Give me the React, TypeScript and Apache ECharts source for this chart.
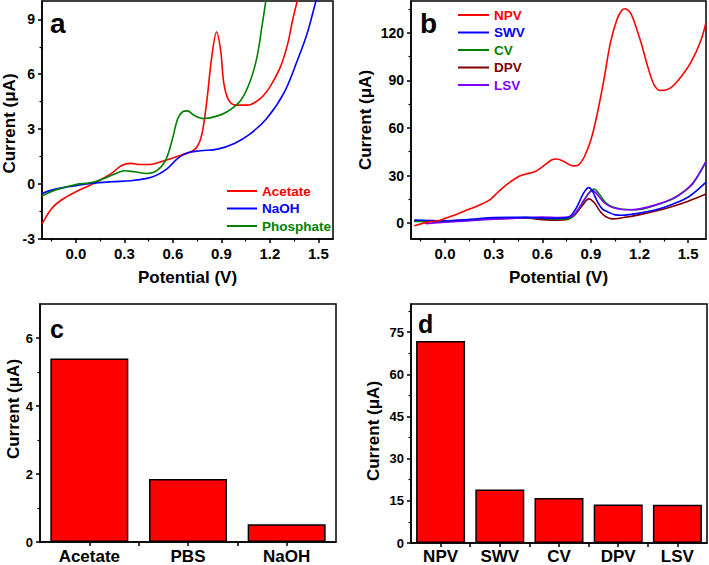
import React, { useEffect, useRef } from "react";
import * as echarts from "echarts";

// ---------- Panel a: oxidation curves in different electrolytes (V, µA) ----------
const acetateCurve = [
  [-0.21, -2.18], [-0.15, -1.33], [-0.09, -0.87], [0, -0.42], [0.09, -0.05], [0.15, 0.22],
  [0.22, 0.58], [0.28, 1.0], [0.34, 1.13], [0.4, 1.07], [0.46, 1.07], [0.525, 1.22],
  [0.59, 1.4], [0.65, 1.58], [0.71, 1.76], [0.75, 2.04], [0.78, 2.76], [0.81, 4.58],
  [0.84, 6.95], [0.87, 8.31], [0.895, 7.3], [0.915, 5.49], [0.945, 4.58], [0.99, 4.31],
  [1.06, 4.31], [1.14, 4.67], [1.2, 5.31], [1.265, 6.4], [1.31, 7.67], [1.34, 8.95],
  [1.37, 10.04], [1.4, 11.0],
];
const naohCurve = [
  [-0.21, -0.51], [-0.15, -0.33], [-0.05, -0.15], [0, -0.09], [0.09, 0.04], [0.22, 0.13],
  [0.34, 0.18], [0.44, 0.31], [0.5, 0.49], [0.565, 0.85], [0.63, 1.4], [0.69, 1.71],
  [0.77, 1.82], [0.875, 1.91], [0.98, 2.22], [1.08, 2.76], [1.18, 3.58], [1.285, 4.95],
  [1.37, 6.76], [1.43, 8.22], [1.48, 9.85], [1.5, 10.5],
];
const phosphateCurve = [
  [-0.21, -0.65], [-0.13, -0.33], [0, -0.02], [0.09, 0.07], [0.175, 0.31], [0.24, 0.55],
  [0.3, 0.73], [0.36, 0.67], [0.44, 0.58], [0.5, 0.73], [0.555, 1.31], [0.595, 2.4],
  [0.63, 3.58], [0.66, 3.95], [0.69, 4.0], [0.73, 3.76], [0.79, 3.58], [0.855, 3.67],
  [0.935, 3.95], [1.02, 4.58], [1.08, 5.67], [1.12, 6.95], [1.15, 8.58], [1.175, 10.04],
  [1.19, 11.0],
];

// ---------- Panel b: techniques (V, µA) ----------
const npvCurve = [
  [-0.19, -1.7], [-0.1, 0.8], [-0.04, 1.5], [0, 3.0], [0.07, 5.5], [0.124, 7.8], [0.17, 9.6],
  [0.227, 12], [0.28, 15], [0.33, 19.9], [0.39, 25], [0.454, 29.4], [0.5, 31], [0.557, 32.5],
  [0.6, 35.5], [0.66, 39.9], [0.69, 40.4], [0.73, 39], [0.79, 36.1], [0.82, 36.5], [0.86, 42],
  [0.9, 52.5], [0.94, 69.4], [0.98, 90.4], [1.02, 113.5], [1.06, 128.2], [1.09, 134],
  [1.11, 135.1], [1.14, 133], [1.16, 129], [1.21, 113.5], [1.25, 98.8], [1.29, 87.2],
  [1.33, 83.6], [1.39, 85.1], [1.45, 91.4], [1.52, 101.9], [1.58, 115.6], [1.61, 126.5],
];
const swvCurve = [
  [-0.19, 2.0], [-0.1, 1.7], [0, 1.5], [0.1, 2], [0.2, 2.8], [0.3, 3.5], [0.4, 3.6], [0.5, 3.6],
  [0.6, 3.2], [0.7, 3.0], [0.76, 3.5], [0.8, 8], [0.825, 12.6], [0.855, 19], [0.887, 22.4],
  [0.91, 20], [0.94, 13.5], [0.97, 9], [1.0, 7.3], [1.05, 5.2], [1.093, 5.0], [1.15, 5.6],
  [1.2, 6.3], [1.3, 8.4], [1.4, 11.8], [1.506, 16.8], [1.61, 25.8],
];
const cvCurve = [
  [-0.19, 1.0], [0, 1.0], [0.3, 2.8], [0.5, 3.5], [0.7, 2.5], [0.76, 3], [0.8, 5.5], [0.85, 13],
  [0.89, 19.5], [0.92, 21.5], [0.95, 18.5], [0.99, 13], [1.04, 10], [1.1, 8.7], [1.15, 8.4],
  [1.2, 8.6], [1.3, 11.3], [1.4, 15], [1.465, 19.3], [1.53, 25], [1.61, 38.8],
];
const dpvCurve = [
  [-0.19, 1.4], [0, 1.5], [0.1, 1.8], [0.2, 2.2], [0.3, 2.7], [0.4, 3.0], [0.5, 3.2], [0.6, 2.2],
  [0.7, 1.8], [0.76, 2.5], [0.8, 5], [0.85, 11.5], [0.887, 15.3], [0.92, 13], [0.96, 7],
  [0.99, 4.2], [1.03, 2.7], [1.1, 3.5], [1.196, 5.2], [1.3, 7.6], [1.403, 10.5], [1.5, 13.8],
  [1.61, 18.3],
];
const lsvCurve = [
  [-0.12, -0.4], [-0.05, 0.3], [0, 0.6], [0.1, 1.2], [0.2, 1.8], [0.3, 2.5], [0.4, 3.0],
  [0.5, 3.5], [0.6, 3.8], [0.7, 3.5], [0.76, 3.8], [0.804, 6.3], [0.866, 15.8], [0.91, 20.5],
  [0.94, 18], [0.98, 13], [1.03, 10], [1.08, 8.8], [1.134, 8.4], [1.2, 9], [1.3, 11.5],
  [1.4, 15.3], [1.465, 19.3], [1.53, 25.5], [1.61, 39],
];

// ---------- Panel c / d: bar values ----------
const electrolyteNames = ["Acetate", "PBS", "NaOH"];
const electrolyteCurrents = [5.4, 1.85, 0.52];
const techniqueNames = ["NPV", "SWV", "CV", "DPV", "LSV"];
const techniqueCurrents = [71.8, 19.0, 16.0, 13.7, 13.6];

// ---------- Tick values ----------
const potentialTicks = [0, 0.3, 0.6, 0.9, 1.2, 1.5];
const potentialMinorTicks = [-0.15, 0.15, 0.45, 0.75, 1.05, 1.35];
const aCurrentTicks = [-3, 0, 3, 6, 9];
const aCurrentMinorTicks = [-1.5, 1.5, 4.5, 7.5];
const bCurrentTicks = [0, 30, 60, 90, 120];
const bCurrentMinorTicks = [15, 45, 75, 105, 135];
const cCurrentTicks = [0, 2, 4, 6];
const cCurrentMinorTicks = [1, 3, 5];
const dCurrentTicks = [0, 15, 30, 45, 60, 75];
const dCurrentMinorTicks = [7.5, 22.5, 37.5, 52.5, 67.5, 82.5];

const FONT = "'Liberation Sans', Arial, Helvetica, sans-serif";
const BLACK = "#000";

function mainAxis(o: any) {
  return {
    type: "value",
    gridIndex: o.grid,
    position: o.position,
    offset: 0,
    min: o.min,
    max: o.max,
    axisLine: { show: true, onZero: false, lineStyle: { color: BLACK, width: 1.5 } },
    axisTick: { show: true, inside: false, length: 4, customValues: o.ticks, lineStyle: { color: BLACK, width: 1.5 } },
    axisLabel: {
      show: true,
      customValues: o.labels || o.ticks,
      margin: o.margin ?? 7,
      fontSize: o.fontSize,
      fontWeight: "bold",
      color: BLACK,
      fontFamily: FONT,
      formatter: o.formatter,
    },
    splitLine: { show: false },
    minorTick: { show: false },
    name: o.name,
    nameLocation: "middle",
    nameGap: o.nameGap,
    nameTextStyle: {
      fontSize: 17,
      fontWeight: "bold",
      color: BLACK,
      fontFamily: FONT,
      padding: o.namePadding || 0,
    },
  };
}

function minorAxis(o: any) {
  return {
    type: "value",
    gridIndex: o.grid,
    position: o.position,
    offset: 0,
    min: o.min,
    max: o.max,
    axisLine: { show: false, onZero: false },
    axisTick: { show: true, inside: false, length: 2.5, customValues: o.ticks, lineStyle: { color: BLACK, width: 1.2 } },
    axisLabel: { show: false },
    splitLine: { show: false },
  };
}

const fmt1 = (v: number) => v.toFixed(1);
const fmt0 = (v: number) => String(Math.round(v * 10) / 10);

function lineSeries(name: string, data: number[][], color: string, axisIdx: number) {
  return {
    type: "line",
    name,
    data,
    xAxisIndex: axisIdx,
    yAxisIndex: axisIdx,
    symbol: "none",
    smooth: 0.35,
    clip: true,
    lineStyle: { color, width: 1.6 },
    itemStyle: { color },
  };
}

export default function App() {
  const ref = useRef<HTMLDivElement>(null);

  useEffect(() => {
    const chart = echarts.init(ref.current!, null, { renderer: "svg" });

    const grids = [
      { left: 40, top: 1, width: 293, height: 238 },
      { left: 411, top: 1, width: 295, height: 238 },
      { left: 40, top: 304, width: 296, height: 239 },
      { left: 411, top: 304, width: 296, height: 240 },
    ].map((g) => ({ ...g, show: true, borderColor: BLACK, borderWidth: 1.5, backgroundColor: "transparent" }));

    const xAxis = [
      mainAxis({ grid: 0, position: "bottom", min: -0.21, max: 1.59, ticks: potentialTicks, fontSize: 15, formatter: fmt1, name: "Potential (V)", nameGap: 30 }),
      minorAxis({ grid: 0, position: "bottom", min: -0.21, max: 1.59, ticks: potentialMinorTicks }),
      mainAxis({ grid: 1, position: "bottom", min: -0.21, max: 1.61, ticks: potentialTicks, fontSize: 15, formatter: fmt1, name: "Potential (V)", nameGap: 30 }),
      minorAxis({ grid: 1, position: "bottom", min: -0.21, max: 1.61, ticks: potentialMinorTicks }),
      mainAxis({
        grid: 2, position: "bottom", min: -0.5, max: electrolyteNames.length - 0.5,
        ticks: [0, 0.5, 1, 1.5, 2], labels: [0, 1, 2], fontSize: 17, margin: 6,
        formatter: (v: number) => electrolyteNames[Math.round(v)],
      }),
      minorAxis({ grid: 2, position: "bottom", min: -0.5, max: 2.5, ticks: [] }),
      mainAxis({
        grid: 3, position: "bottom", min: -0.5, max: techniqueNames.length - 0.5,
        ticks: [0, 0.5, 1, 1.5, 2, 2.5, 3, 3.5, 4], labels: [0, 1, 2, 3, 4], fontSize: 17, margin: 5,
        formatter: (v: number) => techniqueNames[Math.round(v)],
      }),
      minorAxis({ grid: 3, position: "bottom", min: -0.5, max: 4.5, ticks: [] }),
    ];

    const yAxis = [
      mainAxis({ grid: 0, position: "left", min: -3, max: 10, ticks: aCurrentTicks, fontSize: 14, formatter: fmt0, name: "Current (\u03bcA)", nameGap: 24, namePadding: [0, 7, 0, 0] }),
      minorAxis({ grid: 0, position: "left", min: -3, max: 10, ticks: aCurrentMinorTicks }),
      mainAxis({ grid: 1, position: "left", min: -10, max: 140, ticks: bCurrentTicks, fontSize: 14, formatter: fmt0, name: "Current (\u03bcA)", nameGap: 37 }),
      minorAxis({ grid: 1, position: "left", min: -10, max: 140, ticks: bCurrentMinorTicks }),
      mainAxis({ grid: 2, position: "left", min: 0, max: 7, ticks: cCurrentTicks, fontSize: 13, formatter: fmt0, name: "Current (\u03bcA)", nameGap: 17, namePadding: [0, 0, 0, 28] }),
      minorAxis({ grid: 2, position: "left", min: 0, max: 7, ticks: cCurrentMinorTicks }),
      mainAxis({ grid: 3, position: "left", min: 0, max: 85, ticks: dCurrentTicks, fontSize: 13, formatter: fmt0, name: "Current (\u03bcA)", nameGap: 29, namePadding: [0, 15, 0, 0] }),
      minorAxis({ grid: 3, position: "left", min: 0, max: 85, ticks: dCurrentMinorTicks }),
    ];

    const legendText = { fontSize: 13.5, fontWeight: "bold", fontFamily: FONT, lineHeight: 14 };

    const option: any = {
      animation: false,
      backgroundColor: "#fff",
      textStyle: { fontFamily: FONT },
      grid: grids,
      xAxis,
      yAxis,
      legend: [
        {
          orient: "vertical", left: 222, top: 179, icon: "rect", itemWidth: 30, itemHeight: 2, itemGap: 3.5,
          textStyle: legendText, selectedMode: false,
          data: [
            { name: "Acetate", textStyle: { color: "#ff0000" } },
            { name: "NaOH", textStyle: { color: "#0000ff" } },
            { name: "Phosphate", textStyle: { color: "#008000" } },
          ],
        },
        {
          orient: "vertical", left: 453, top: 3, icon: "rect", itemWidth: 31, itemHeight: 2, itemGap: 3.5,
          textStyle: legendText, selectedMode: false,
          data: [
            { name: "NPV", textStyle: { color: "#ff0000" } },
            { name: "SWV", textStyle: { color: "#0000ff" } },
            { name: "CV", textStyle: { color: "#008000" } },
            { name: "DPV", textStyle: { color: "#800000" } },
            { name: "LSV", textStyle: { color: "#8000ff" } },
          ],
        },
      ],
      graphic: [
        { type: "text", left: 50, top: 9, style: { text: "a", font: `bold 28px ${FONT}`, fill: BLACK } },
        { type: "text", left: 420, top: 9, style: { text: "b", font: `bold 28px ${FONT}`, fill: BLACK } },
        { type: "text", left: 50, top: 316, style: { text: "c", font: `bold 25px ${FONT}`, fill: BLACK } },
        { type: "text", left: 418, top: 311, style: { text: "d", font: `bold 25px ${FONT}`, fill: BLACK } },
      ],
      series: [
        lineSeries("Acetate", acetateCurve, "#ff0000", 0),
        lineSeries("NaOH", naohCurve, "#0000ff", 0),
        lineSeries("Phosphate", phosphateCurve, "#008000", 0),
        lineSeries("DPV", dpvCurve, "#800000", 2),
        lineSeries("CV", cvCurve, "#008000", 2),
        lineSeries("LSV", lsvCurve, "#8000ff", 2),
        lineSeries("SWV", swvCurve, "#0000ff", 2),
        lineSeries("NPV", npvCurve, "#ff0000", 2),
        {
          type: "bar",
          name: "Electrolyte peak current",
          xAxisIndex: 4,
          yAxisIndex: 4,
          barWidth: 78,
          data: electrolyteCurrents.map((v, i) => [i, v]),
          itemStyle: { color: "#ff0000", borderColor: BLACK, borderWidth: 1.5 },
        },
        {
          type: "bar",
          name: "Technique peak current",
          xAxisIndex: 6,
          yAxisIndex: 6,
          barWidth: 49,
          data: techniqueCurrents.map((v, i) => [i, v]),
          itemStyle: { color: "#ff0000", borderColor: BLACK, borderWidth: 1.5 },
        },
      ],
    };

    chart.setOption(option);
    return () => chart.dispose();
  }, []);

  return (
    <div
      ref={ref}
      style={{ position: "absolute", left: 0, top: 0, width: 709, height: 565 }}
    />
  );
}
